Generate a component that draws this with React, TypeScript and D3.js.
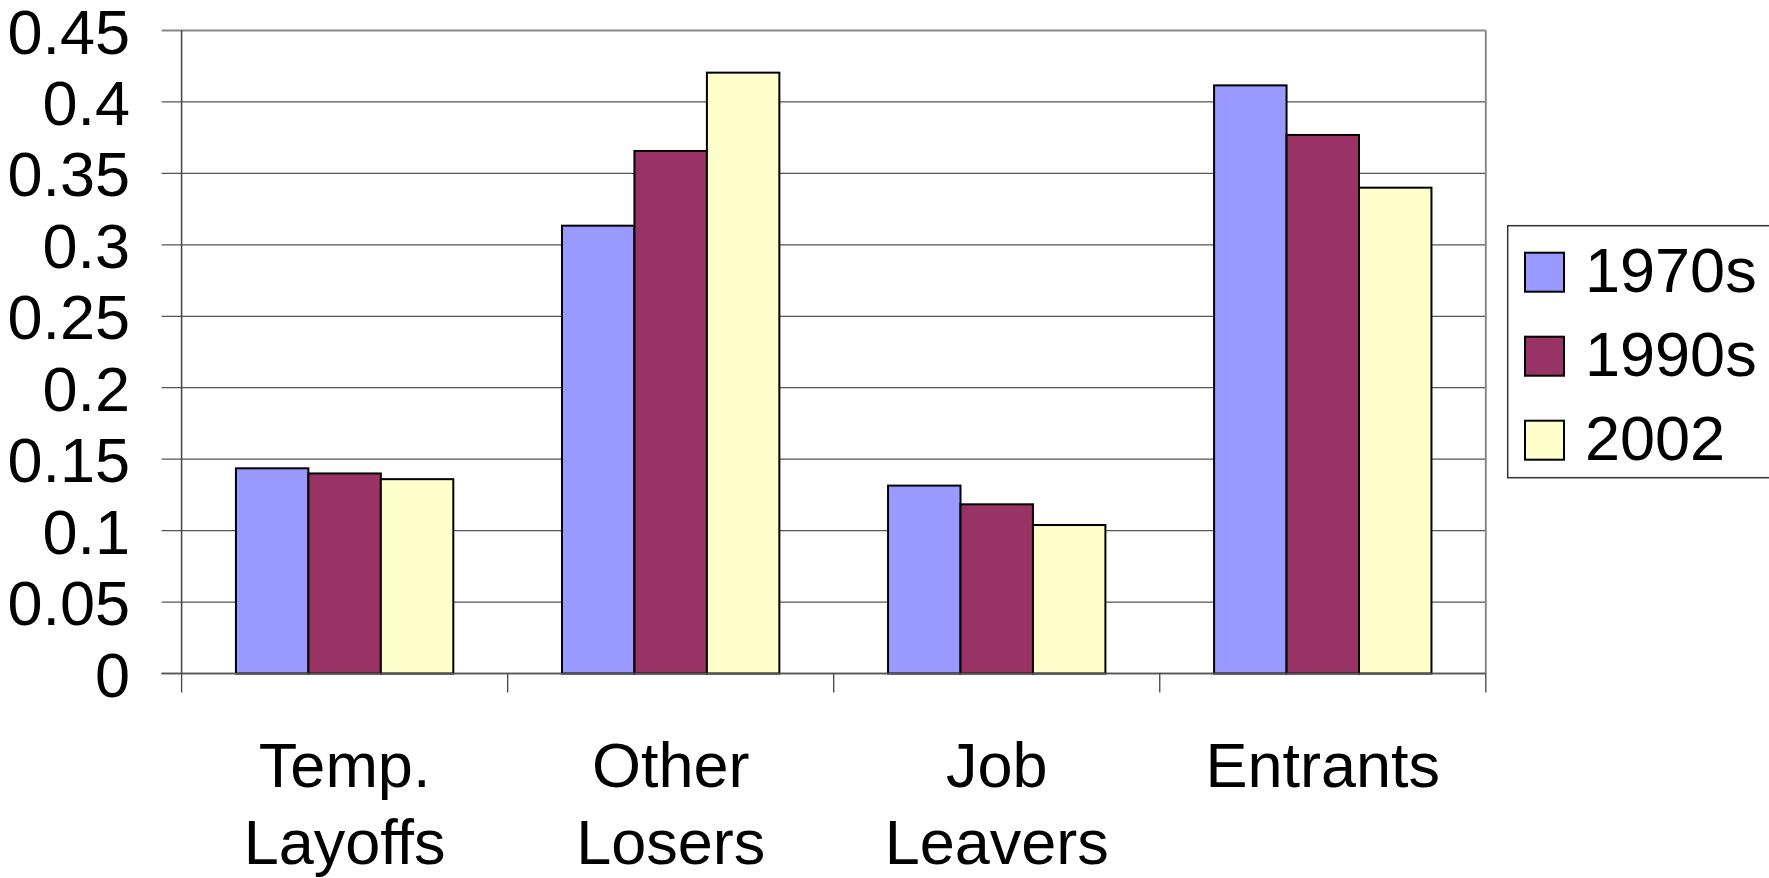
import React from "react";
import * as d3 from "d3";

const categories = ["Temp. Layoffs", "Other Losers", "Job Leavers", "Entrants"];
const categoryLines = [["Temp.", "Layoffs"], ["Other", "Losers"], ["Job", "Leavers"], ["Entrants"]];
const seriesNames = ["1970s", "1990s", "2002"];
const values1970s = [0.1436, 0.3134, 0.1315, 0.4116];
const values1990s = [0.14, 0.3657, 0.1184, 0.3769];
const values2002 = [0.136, 0.4205, 0.1039, 0.34];
const yTicks = [0, 0.05, 0.1, 0.15, 0.2, 0.25, 0.3, 0.35, 0.4, 0.45];

const colors = ["#9999FF", "#993366", "#FFFFCC"];
const FONT = "'Liberation Sans', Arial, sans-serif";

export default function App() {
  const W = 1769, H = 878;
  const left = 181.6, right = 1485.8, top = 30.5, bottom = 673.5;
  const seriesValues = [values1970s, values1990s, values2002];

  const y = d3.scaleLinear().domain([0, 0.45]).range([bottom, top]);
  const x0 = d3.scaleBand().domain(categories).range([left, right]).padding(0);
  const x1 = d3.scaleBand().domain(seriesNames).range([0, x0.bandwidth()]).paddingInner(0).paddingOuter(0.75);

  const boundaries = categories.map((c) => x0(c) as number).concat([right]);

  return (
    <svg width={W} height={H} style={{ position: "absolute", left: 0, top: 0, background: "#fff" }} fontFamily={FONT}>
      {/* gridlines */}
      {yTicks.map((t) => (
        <line key={"g" + t} x1={left - 20} x2={right} y1={y(t)} y2={y(t)} stroke={t === 0.45 ? "#888" : "#555"} strokeWidth={t === 0.45 ? 2 : 1.3} />
      ))}
      {/* plot border right */}
      <line x1={right} x2={right} y1={top} y2={bottom} stroke="#888" strokeWidth={2} />
      {/* y axis */}
      <line x1={left} x2={left} y1={top} y2={bottom} stroke="#444" strokeWidth={1.5} />
      {/* y tick labels */}
      {yTicks.map((t) => (
        <text key={"t" + t} x={130} y={y(t) + 23} textAnchor="end" fontSize={63} fill="#000">
          {String(t)}
        </text>
      ))}
      {/* bars */}
      {seriesNames.map((s, si) =>
        categories.map((c, ci) => {
          const v = seriesValues[si][ci];
          const bx = (x0(c) as number) + (x1(s) as number);
          return (
            <rect key={s + c} x={bx} y={y(v)} width={x1.bandwidth()} height={bottom - y(v)} fill={colors[si]} stroke="#000" strokeWidth={2} />
          );
        })
      )}
      {/* x axis */}
      <line x1={left - 20} x2={right} y1={bottom} y2={bottom} stroke="#555" strokeWidth={1.5} />
      {boundaries.map((b, i) => (
        <line key={"xt" + i} x1={b} x2={b} y1={bottom} y2={bottom + 19} stroke="#444" strokeWidth={1.3} />
      ))}
      {/* category labels */}
      {categories.map((c, ci) => {
        const cx = (x0(c) as number) + x0.bandwidth() / 2;
        return (
          <text key={"c" + c} textAnchor="middle" fontSize={63} fill="#000">
            {categoryLines[ci].map((ln, li) => (
              <tspan key={li} x={cx} y={787 + li * 77}>
                {ln}
              </tspan>
            ))}
          </text>
        );
      })}
      {/* legend */}
      <rect x={1507.7} y={225.7} width={300} height={252} fill="#fff" stroke="#333" strokeWidth={1.5} />
      {seriesNames.map((s, si) => (
        <g key={"l" + s}>
          <rect x={1525} y={252.7 + si * 84} width={39} height={39} fill={colors[si]} stroke="#000" strokeWidth={2} />
          <text x={1585} y={291.7 + si * 84} fontSize={63} fill="#000">
            {s}
          </text>
        </g>
      ))}
    </svg>
  );
}
